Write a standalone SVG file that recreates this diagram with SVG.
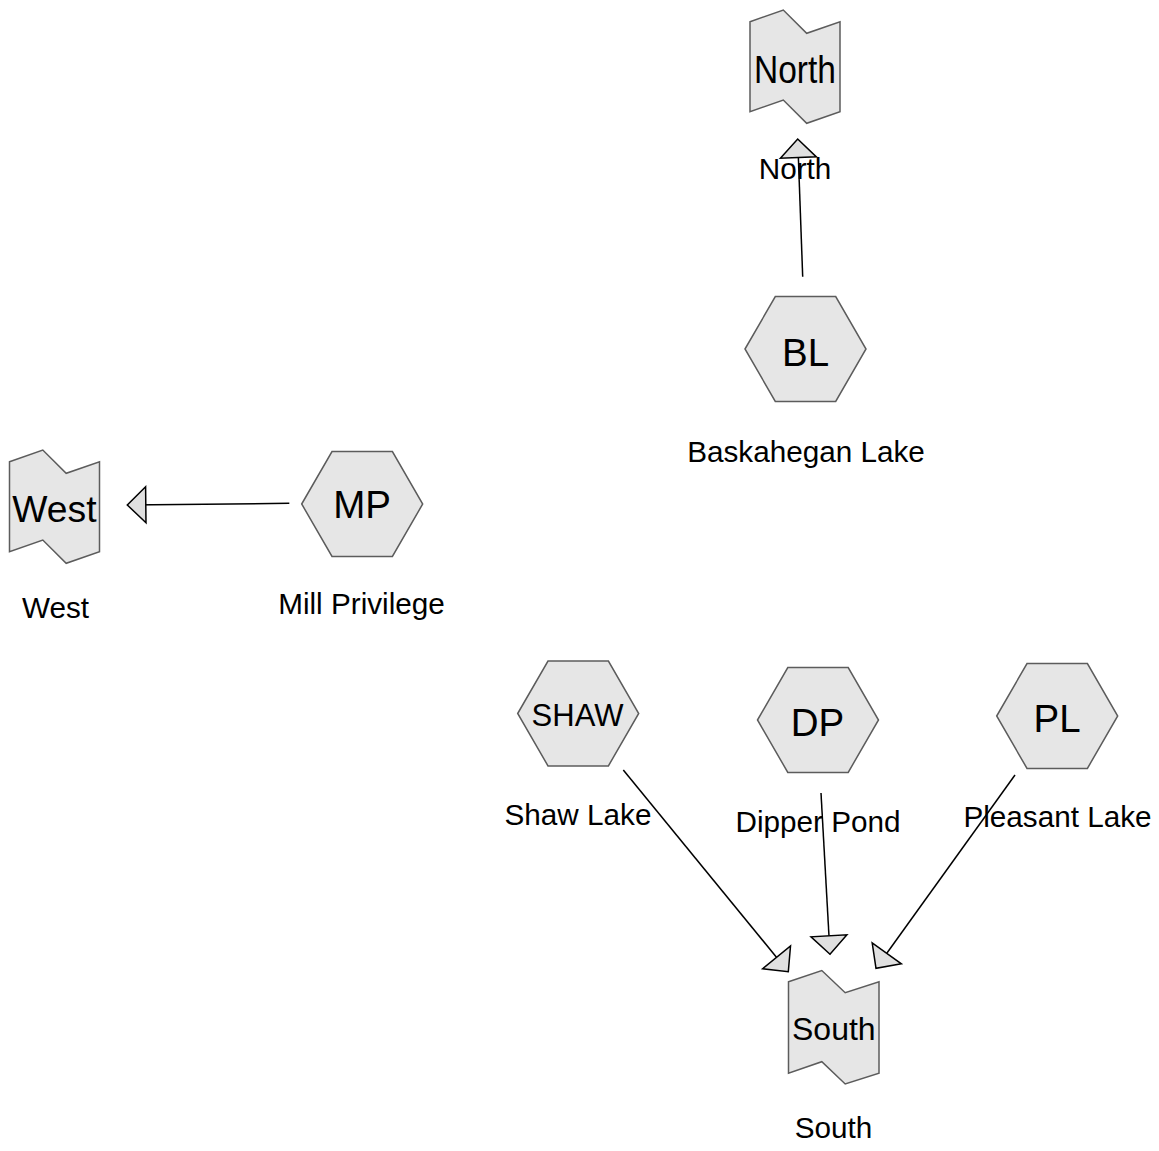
<svg xmlns="http://www.w3.org/2000/svg" width="1159" height="1151" viewBox="0 0 1159 1151">
<style>
.shape{fill:#e6e6e6;stroke:#5c5c5c;stroke-width:1.5}
.t{font-family:"Liberation Sans",Arial,sans-serif;fill:#000;text-anchor:middle}
.lbl{font-size:29.7px}
.big{font-size:38.5px}
.edge{stroke:#000;stroke-width:1.5;fill:none}
</style>
<defs>
<marker id="arr" markerUnits="userSpaceOnUse" markerWidth="40" markerHeight="40" refX="18.5" refY="0" orient="auto" overflow="visible">
<path d="M0,-18 L18.5,0 L0,18 Z" fill="#e0e0e0" stroke="#000" stroke-width="1.5"/>
</marker>
</defs>
<rect width="1159" height="1151" fill="#fff"/>
<g id="connectors">
<line class="edge" x1="802.7" y1="276.7" x2="797.7" y2="139" marker-end="url(#arr)"/>
<line class="edge" x1="289.3" y1="503.3" x2="127.3" y2="505" marker-end="url(#arr)"/>
<line class="edge" x1="623.3" y1="770" x2="788.3" y2="971.7" marker-end="url(#arr)"/>
<line class="edge" x1="821" y1="793" x2="830" y2="954.3" marker-end="url(#arr)"/>
<line class="edge" x1="1015" y1="775" x2="876" y2="968.3" marker-end="url(#arr)"/>
</g>
<g id="North">
<path class="shape" d="M750,21.7 L783.3,10 L806.7,33.3 L840,21.7 L840,111.7 L806.7,123.3 L783.3,100 L750,111.7 Z"/>
<text class="t" x="795" y="82.7" font-size="39" textLength="82" lengthAdjust="spacingAndGlyphs">North</text>
<text class="t lbl" x="795" y="179">North</text>
</g>
<g id="BL">
<polygon class="shape" points="745,349 775.3,296.6 835.7,296.6 866,349 835.7,401.4 775.3,401.4"/>
<text class="t big" x="805.5" y="366">BL</text>
<text class="t lbl" x="806" y="462">Baskahegan Lake</text>
</g>
<g id="West">
<path class="shape" d="M9.5,461.7 L42.8,450 L66.2,473.3 L99.5,461.7 L99.5,551.7 L66.2,563.3 L42.8,540 L9.5,551.7 Z"/>
<text class="t" x="54.5" y="521.7" font-size="37.3">West</text>
<text class="t lbl" x="55.5" y="618">West</text>
</g>
<g id="MP">
<polygon class="shape" points="301.7,504 332,451.6 392.4,451.6 422.7,504 392.4,556.4 332,556.4"/>
<text class="t big" x="362" y="518.3">MP</text>
<text class="t lbl" x="361.5" y="614">Mill Privilege</text>
</g>
<g id="SHAW">
<polygon class="shape" points="517.7,713.5 548,661.1 608.4,661.1 638.7,713.5 608.4,765.9 548,765.9"/>
<text class="t" x="577.5" y="726" font-size="31">SHAW</text>
<text class="t lbl" x="578" y="825">Shaw Lake</text>
</g>
<g id="DP">
<polygon class="shape" points="757.5,720 787.8,667.6 848.2,667.6 878.5,720 848.2,772.4 787.8,772.4"/>
<text class="t big" x="817.5" y="736">DP</text>
<text class="t lbl" x="818" y="831.5">Dipper Pond</text>
</g>
<g id="PL">
<polygon class="shape" points="996.7,716 1027,663.6 1087.4,663.6 1117.7,716 1087.4,768.4 1027,768.4"/>
<text class="t big" x="1057" y="731.7">PL</text>
<text class="t lbl" x="1057.5" y="826.7">Pleasant Lake</text>
</g>
<g id="South">
<path class="shape" d="M788.5,981.7 L821.8,970.5 L845.2,992.7 L879,981.7 L879,1073.3 L845.2,1084 L821.8,1061.7 L788.5,1073.3 Z"/>
<text class="t" x="833.8" y="1040" font-size="32">South</text>
<text class="t lbl" x="833.5" y="1138">South</text>
</g>
</svg>
